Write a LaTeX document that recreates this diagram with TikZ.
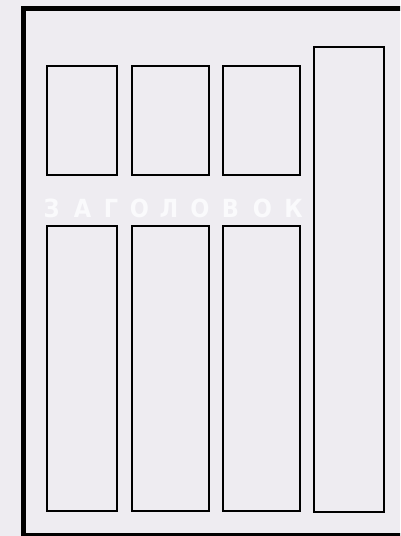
\documentclass[tikz,border=0pt]{standalone}
\usepackage{fontspec}
\newfontfamily\titlefont{DejaVu Sans Condensed}
\definecolor{bg}{RGB}{238,236,241}
\definecolor{txt}{RGB}{250,250,252}
\begin{document}
\begin{tikzpicture}[x=1pt,y=-1pt,
  panel/.style={draw=black,line width=2pt},
  frame/.style={draw=black,line width=5pt},
  letter/.style={text=txt,font=\titlefont\bfseries\fontsize{25}{25}\selectfont,inner sep=0pt,anchor=base}]
\fill[bg] (0,0) rectangle (400,536);
\useasboundingbox (0,0) rectangle (400,536);
\begin{scope}
\clip (0,0) rectangle (400,536);
\draw[frame] (23.5,8.5) rectangle (420,535.5);
\end{scope}
% upper boxes
\node[panel,inner sep=0pt,minimum width=70pt,minimum height=109pt] (u1) at (81.5,120.5) {};
\node[panel,inner sep=0pt,minimum width=77pt,minimum height=109pt] (u2) at (170,120.5) {};
\node[panel,inner sep=0pt,minimum width=77pt,minimum height=109pt] (u3) at (261.5,120.5) {};
% lower boxes
\node[panel,inner sep=0pt,minimum width=70pt,minimum height=285pt] (l1) at (81.5,368.5) {};
\node[panel,inner sep=0pt,minimum width=77pt,minimum height=285pt] (l2) at (170,368.5) {};
\node[panel,inner sep=0pt,minimum width=77pt,minimum height=285pt] (l3) at (261.5,368.5) {};
% tall right box
\node[panel,inner sep=0pt,minimum width=70pt,minimum height=465pt] (r) at (348.5,279) {};
% title letters
\node[letter] (t1) at (51.5,217) {З};
\node[letter] (t2) at (82.5,217) {А};
\node[letter] (t3) at (111,217) {Г};
\node[letter] (t4) at (139.5,217) {О};
\node[letter] (t5) at (169,217) {Л};
\node[letter] (t6) at (200,217) {О};
\node[letter] (t7) at (230.5,217) {В};
\node[letter] (t8) at (262.5,217) {О};
\node[letter] (t9) at (293.5,217) {К};
\end{tikzpicture}
\end{document}
